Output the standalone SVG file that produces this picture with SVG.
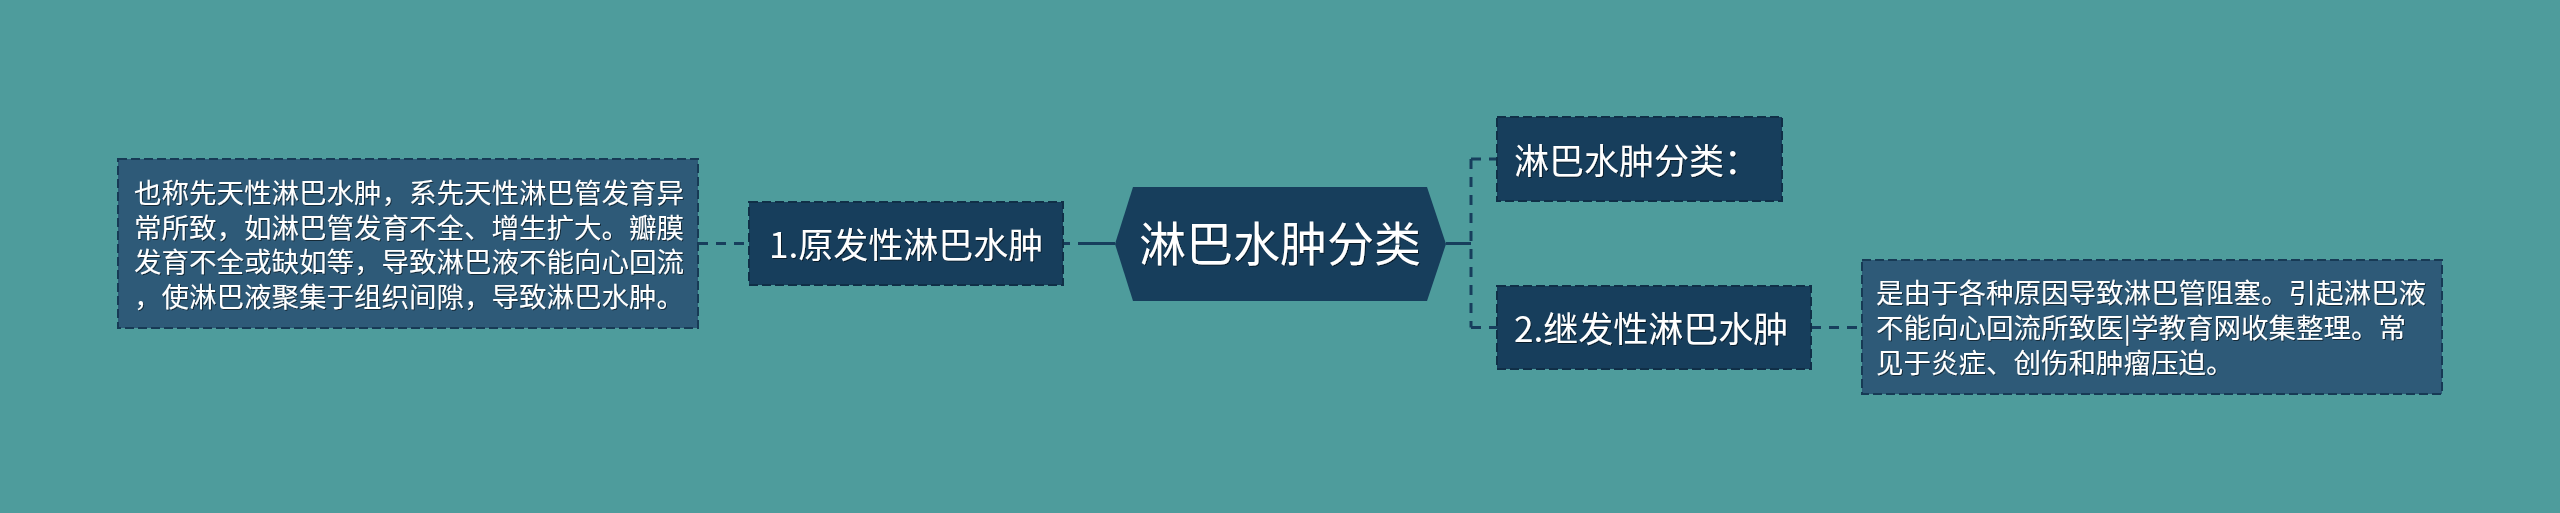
<svg xmlns="http://www.w3.org/2000/svg" width="2560" height="513" viewBox="0 0 2560 513">
<defs>
<filter id="ts" x="-5%" y="-20%" width="110%" height="140%">
<feDropShadow dx="1" dy="1" stdDeviation="0.6" flood-color="#000000" flood-opacity="0.55"/>
</filter>
</defs>
<style>
.bg{fill:#4e9c9c}
.node{fill:#173e5c;stroke:#102f47;stroke-width:2;stroke-dasharray:9 4}
.box{fill:#2e5a78;stroke:#173a55;stroke-width:2;stroke-dasharray:9 4}
.hex{fill:#173e5c}
.t{font-family:"Noto Sans CJK SC","Noto Sans",sans-serif;fill:#ffffff;filter:url(#ts)}
.tn{font-size:35px}
.tm{font-size:47px}
.tb{font-size:27.5px}
.c{fill:none;stroke:#173e5c;stroke-width:3}
.cd{fill:none;stroke:#173e5c;stroke-width:3;stroke-dasharray:10 8}
</style>
<rect class="bg" x="0" y="0" width="2560" height="513"/>

<g id="connectors">
<line class="c" x1="1115" y1="243.5" x2="1063" y2="243.5" stroke-width="4" stroke-dasharray="37 8"/>
<line class="cd" x1="698" y1="243.5" x2="749" y2="243.5"/>
<line class="c" x1="1446" y1="243.5" x2="1471" y2="243.5" stroke-width="4"/>
<path class="cd" d="M1471,159 L1471,327.5"/>
<line class="cd" x1="1471" y1="159" x2="1497" y2="159"/>
<line class="cd" x1="1471" y1="327.5" x2="1497" y2="327.5"/>
<line class="cd" x1="1811" y1="327.5" x2="1862" y2="327.5"/>
</g>

<g id="root">
<polygon class="hex" points="1115,244 1133,187 1427,187 1446,244 1427,301 1133,301"/>
<text class="t tm" x="1280" y="261" text-anchor="middle">淋巴水肿分类</text>
</g>

<g id="node-primary">
<rect class="node" x="749" y="202" width="314" height="83"/>
<text class="t tn" x="769" y="258">1.原发性淋巴水肿</text>
</g>

<g id="node-primary-desc">
<rect class="box" x="118" y="159" width="580" height="169"/>
<text class="t tb"><tspan x="134" y="203">也称先天性淋巴水肿，系先天性淋巴管发育异</tspan><tspan x="134" y="237.5">常所致，如淋巴管发育不全、增生扩大。瓣膜</tspan><tspan x="134" y="272">发育不全或缺如等，导致淋巴液不能向心回流</tspan><tspan x="134" y="306.5">，使淋巴液聚集于组织间隙，导致淋巴水肿。</tspan></text>
</g>

<g id="node-classify">
<rect class="node" x="1497" y="117" width="285" height="84"/>
<text class="t tn" x="1514" y="174">淋巴水肿分类：</text>
</g>

<g id="node-secondary">
<rect class="node" x="1497" y="286" width="314" height="83"/>
<text class="t tn" x="1514" y="342">2.继发性淋巴水肿</text>
</g>

<g id="node-secondary-desc">
<rect class="box" x="1862" y="260" width="580" height="134"/>
<text class="t tb"><tspan x="1876" y="303">是由于各种原因导致淋巴管阻塞。引起淋巴液</tspan><tspan x="1876" y="338">不能向心回流所致医|学教育网收集整理。常</tspan><tspan x="1876" y="372.5">见于炎症、创伤和肿瘤压迫。</tspan></text>
</g>
</svg>
